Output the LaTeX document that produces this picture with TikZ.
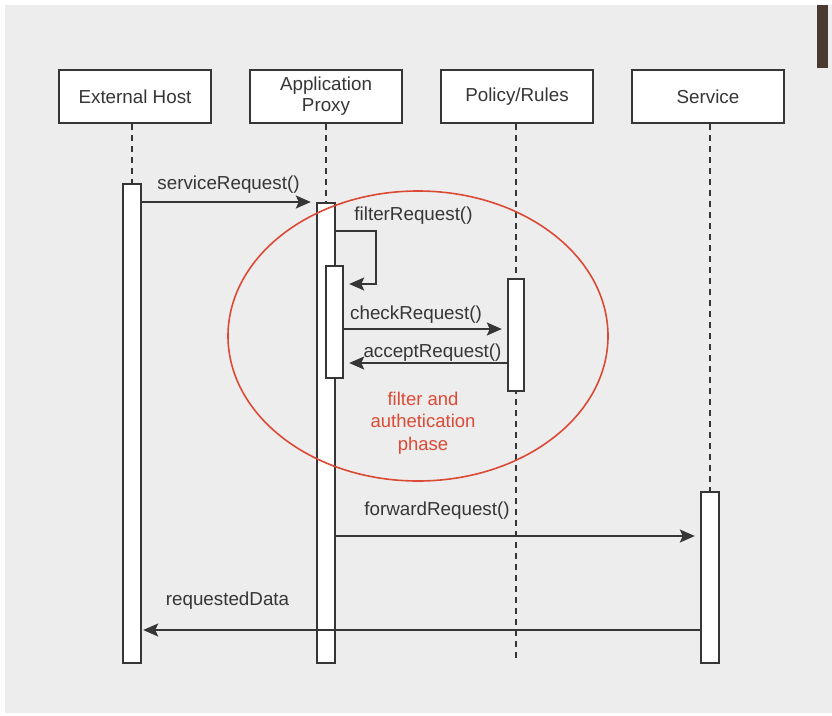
\documentclass[tikz,border=0pt]{standalone}
\usepackage{fontspec}
\setmainfont{Liberation Sans}
\usepackage{tikz}
\usetikzlibrary{positioning}
\usetikzlibrary{calc}
\usetikzlibrary{arrows.meta}
\definecolor{inkgray}{HTML}{363636}
\definecolor{paper}{HTML}{EDEDEE}
\definecolor{phasered}{HTML}{DC4A36}
\definecolor{edgebrown}{HTML}{4B3A31}

\begin{document}
\begin{tikzpicture}[
        x=1pt, y=-1pt,
        node distance= 1cm and 36.8pt,
        every node/.style={font=\fontsize{18.8}{21}\selectfont, text=inkgray},
        actor/.style={draw=inkgray, fill=white, line width=2.2pt, minimum width=152pt, minimum height=53pt, align=center, inner sep=0pt},
        bar/.style={draw=inkgray, fill=white, line width=2.4pt, minimum width=18pt, inner sep=0pt, anchor=north},
        life/.style={inkgray, line width=1.8pt, dash pattern=on 6pt off 5pt},
        arrow/.style={inkgray, line width=2pt, -{Stealth[length=15pt, width=13pt, inset=3pt]}, shorten >=5pt},
        note/.style={text=phasered, align=center, font=\fontsize{18.5}{22.5}\selectfont},
    ]
        \useasboundingbox (0,0) rectangle (832,715);
        \fill[white] (0,0) rectangle (832,715);
        \fill[paper] (5,5) rectangle (832,713);
        \fill[edgebrown] (817,5) rectangle (828,68);

        \node[actor] (host) at (135,96.5) {External Host};
        \node[actor, right = of host] (proxy) {Application\\Proxy};
        \node[actor, right = of proxy] (rules) {Policy/Rules};
        \node[actor, right = of rules] (service) {Service};

        % lifelines
        \foreach \who/\x in {host/132, proxy/326, rules/516, service/710}
            \draw[life] (\who.south -| \x,0) -- (\x,662);

        % activations
        \node[bar, minimum height=479pt] (hostbar) at (132,183) {};
        \node[bar, minimum height=460pt] (proxybar) at (326,202) {};
        \node[bar, minimum height=112pt, minimum width=17pt] (filterbar) at (334.5,265) {};
        \node[bar, minimum height=112pt, minimum width=16pt] (rulesbar) at (516,278) {};
        \node[bar, minimum height=171pt] (servicebar) at (710,491) {};

        \coordinate (loopout) at (proxybar.east |- 0,231);
        \coordinate (loopturn) at (376,284);

        \draw[arrow] (hostbar.east |- proxybar.north) -- (proxybar.north west);
        \draw[arrow] (loopout) -| (loopturn) -- (filterbar.east |- loopturn);
        \draw[arrow] (filterbar.east |- 0,329) -- (rulesbar.west |- 0,329);
        \draw[arrow] (rulesbar.west |- 0,363) -- (filterbar.east |- 0,363);
        \draw[arrow] (proxybar.east |- 0,536) -- (servicebar.west |- 0,536);
        \draw[arrow, shorten >=1pt] (servicebar.west |- 0,630) -- (hostbar.east |- 0,630);

        \node (servicelbl) at (228.5,185) {serviceRequest()};
        \node (filterlbl) at (413.5,216) {filterRequest()};
        \node (checklbl) at (416,315) {checkRequest()};
        \node (acceptlbl) at (432.5,353) {acceptRequest()};
        \node (forwardlbl) at (437,511) {forwardRequest()};
        \node (datalbl) at (227.5,601) {requestedData};
        \node[note] (phaselbl) at (423,423) {filter and\\authetication\\phase};

        % filter phase
        \draw[phasered, line width=1.6pt] (418,336) ellipse [x radius=190pt, y radius=145pt];
    \end{tikzpicture}
\end{document}
